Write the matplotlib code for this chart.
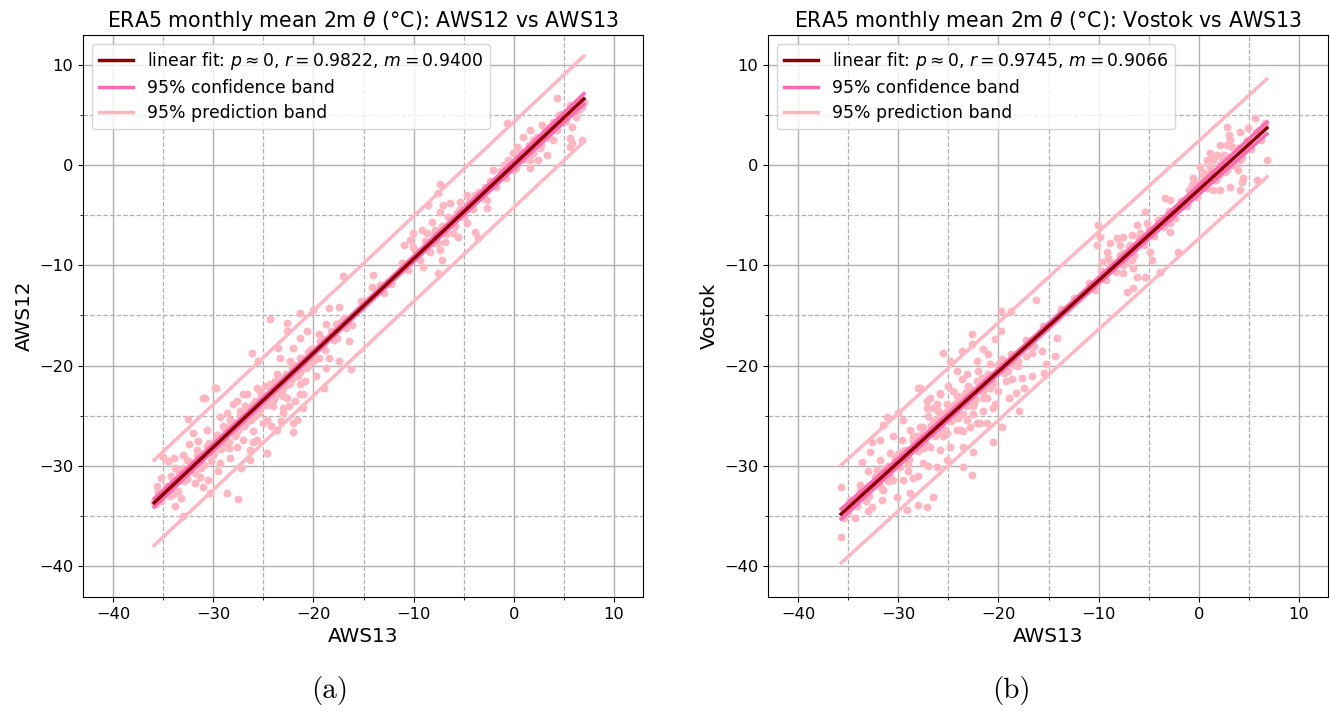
import numpy as np
import matplotlib
matplotlib.use("Agg")
import matplotlib.pyplot as plt
from matplotlib.ticker import MultipleLocator

# ERA5 monthly mean 2m potential temperature (deg C)
# Panel (a): AWS13 (x) vs AWS12 (y)
aws13_a = [
    -35.6, -35.7, -33.8, -33.0, -33.9, -33.8, -35.0, -31.0, -29.8, -32.5, -32.0, -30.6,
    -33.0, -32.6, -31.6, -31.3, -31.8, -31.0, -30.5, -30.3, -28.6, -27.5, -29.3, -28.3,
    -27.6, -27.0, -26.3, -25.6, -26.6, -27.6, -28.6, -28.0, -27.0, -25.6, -24.6, -23.6,
    -23.0, -22.0, -23.6, -25.0, -24.6, -26.3, -22.0, -21.0, -29.6, -28.8,
    -30.8, -29.7, -26.1, -24.3, -25.5, -22.6, -21.3, -20.0, -18.4, -17.4, -17.0, -14.2,
    -22.6, -21.3, -20.6, -19.4, -18.7, -17.7, -16.7, -16.4, -23.5, -22.0, -20.3, -23.3,
    -22.3, -21.3, -19.4, -18.4, -17.4, -16.2, -18.7, -19.7, -18.9, -23.6, -23.0, -22.0,
    -21.3, -24.3, -25.3, -24.0, -22.6, -21.3, -26.6, -27.6, -26.3, -27.3, -25.3, -24.6,
    -23.0, -21.6, -28.3, -29.3,
    -7.4, -7.6, -8.6, -7.1, -6.4, -5.4, -4.7, -3.9, -2.9, -2.7, -2.7, -7.4, -8.2, -6.6,
    -5.7, -4.7, -9.2, -10.1, -8.7, -7.9, -7.1, -6.1, -5.6, -3.9, -3.6, -10.1, -9.6, -8.1,
    -7.4, -6.9, -8.4, -9.1, -7.2, -7.6, -10.4,
    4.3, 5.6, 6.8, -0.7, 1.6, 2.8, 3.6, 4.6, 5.8, 0.9, 1.9, 3.3, 3.9, 5.6, 5.6, 0.3, 1.3,
    2.6, 3.3, -0.1, 0.6, 1.6, 2.4, -0.6, -0.4, -2.1, 1.6, 5.8,
    6.2, 6.5, 7.0, 6.8, -1.0, 0.0, 2.0, 4.5, 5.0, -14.1, -11.0, -13.0,
    -30.0, -29.0, -28.0, -27.0, -26.0, -25.0, -24.0, -23.0, -22.5, -21.5, -20.5, -20.0,
    -19.0, -18.0, -27.8, -26.8, -25.8, -24.8, -23.8, -22.8, -21.8, -20.8, -29.5, -30.2,
    -31.5, -32.2, -34.2, -33.2, -34.8, -35.2, -32.4, -31.2, -28.4, -27.2, -26.0, -24.2,
    -23.2, -22.4, -21.0, -35.9, -34.6, -34.0, -33.5, -32.8, -34.5,
    -35.2, -34.6, -34.0, -33.4, -32.9, -32.3, -31.8, -31.4, -30.9, -30.4, -30.0, -29.6,
    -29.2, -28.8, -28.4, -28.0, -27.7, -27.3, -26.9, -26.5, -26.2, -25.8, -25.4, -25.0,
    -24.7, -24.3, -23.9, -23.5, -23.1, -22.7, -22.3, -21.9, -21.5, -21.1, -20.7, -20.2,
    -19.8, -19.3, -18.8, -18.2, -17.6, -16.9, -16.1, -15.2, -13.4, -12.3, -11.2, -10.6,
    -9.9, -9.4, -8.9, -8.5, -8.0, -7.6, -7.2, -6.8, -6.3, -5.9, -5.4, -5.0, -4.5, -4.1,
    -3.5, -3.0, -2.4, -1.8, -1.3, -0.8, -0.3, 0.2, 0.7, 1.1, 1.5, 1.9, 2.3, 2.7, 3.1,
    3.5, 3.9, 4.3, 4.8, 5.2, 5.7, 6.1, 6.5,
    -35.5, -34.3, -33.0, -32.6, -31.6, -31.1, -30.6, -29.9, -29.4, -28.6, -28.2, -27.5,
    -27.1, -26.7, -26.0, -25.6, -25.2, -24.5, -24.1, -23.7, -23.3, -22.5, -22.1, -21.3,
    -20.5, -20.0, -19.0, -17.9, -17.2,
]
aws12_a = [
    -32.0, -33.8, -34.0, -35.0, -29.2, -30.2, -29.1, -23.2, -22.2, -25.3, -26.7, -26.4,
    -28.9, -29.4, -28.4, -31.1, -31.7, -32.1, -31.4, -32.7, -32.7, -33.3, -29.7, -29.2,
    -28.1, -27.4, -28.4, -27.4, -25.4, -25.7, -24.7, -23.8, -22.8, -22.2, -23.5, -22.8,
    -24.7, -25.7, -26.4, -25.7, -28.7, -29.4, -26.6, -22.8, -27.1, -27.7,
    -23.2, -22.2, -18.7, -15.3, -19.5, -15.7, -14.8, -14.5, -14.3, -14.2, -11.1, -12.2,
    -16.5, -17.2, -16.5, -16.8, -15.8, -15.8, -16.2, -17.5, -18.2, -18.2, -18.5, -19.2,
    -19.5, -19.2, -19.2, -19.2, -19.5, -20.3, -20.2, -21.0, -22.2, -20.8, -21.5, -21.2,
    -21.8, -21.8, -22.5, -22.8, -23.2, -22.8, -22.8, -23.5, -24.2, -24.5, -24.2, -25.4,
    -24.2, -25.4, -25.4, -25.1,
    -1.9, -2.8, -4.0, -4.0, -3.8, -3.7, -3.0, -3.0, -2.2, -3.5, -4.3, -4.7, -5.7, -5.2,
    -4.8, -5.8, -6.5, -6.8, -6.8, -6.5, -6.8, -6.8, -7.2, -6.7, -7.3, -8.2, -8.7, -7.8,
    -8.5, -7.7, -8.7, -10.2, -9.5, -10.8, -7.5,
    6.7, 6.0, 5.8, 4.2, 3.5, 4.0, 3.8, 4.2, 3.8, 2.8, 2.5, 2.8, 2.5, 2.7, 1.8, 1.8, 1.5,
    1.7, 1.0, 1.2, 0.8, 0.5, 0.5, 0.5, -0.3, -0.5, -0.3, 2.2,
    4.8, 5.5, 6.3, 2.5, 0.0, -0.5, 2.0, 5.0, 4.5, -11.0, -8.0, -12.8,
    -28.0, -26.0, -26.5, -25.0, -26.5, -23.0, -24.0, -23.0, -21.0, -20.5, -20.0, -19.5,
    -18.0, -17.0, -27.0, -24.0, -25.0, -22.0, -21.5, -22.0, -23.5, -21.5, -30.5, -29.5,
    -27.5, -30.5, -31.0, -33.2, -32.8, -31.2, -27.8, -30.2, -28.2, -30.2, -27.6, -26.0,
    -25.5, -24.0, -24.2, -33.6, -32.3, -31.5, -32.5, -31.0, -29.5,
    -33.5, -32.0, -32.8, -30.6, -31.5, -29.6, -30.7, -28.8, -29.9, -27.7, -28.9, -26.9,
    -28.3, -26.3, -27.6, -25.6, -26.8, -24.9, -26.0, -24.2, -25.4, -23.5, -24.7, -22.9,
    -23.9, -22.1, -23.3, -21.4, -22.5, -20.8, -21.7, -19.9, -21.0, -19.2, -20.2, -18.3,
    -19.3, -17.5, -18.4, -16.5, -17.2, -15.2, -15.9, -13.6, -12.0, -11.9, -9.8, -10.5,
    -8.5, -9.5, -7.6, -8.6, -6.9, -7.8, -6.1, -6.9, -5.3, -6.1, -4.4, -5.2, -3.6, -4.4,
    -2.7, -3.3, -1.6, -2.2, -0.6, -1.3, 0.3, -0.3, 1.3, 0.6, 2.0, 1.2, 2.8, 2.0, 3.5,
    2.8, 4.3, 3.5, 5.1, 4.4, 5.9, 5.2, 6.4,
    -32.6, -33.0, -30.2, -31.3, -29.0, -29.9, -28.0, -28.7, -27.0, -27.5, -25.9, -26.4,
    -24.8, -25.7, -23.8, -24.6, -23.0, -23.6, -22.0, -22.8, -21.2, -21.8, -20.1, -20.6,
    -18.6, -19.4, -17.3, -17.4, -15.6,
]

# Panel (b): AWS13 (x) vs Vostok (y)
aws13_b = [
    -35.7, -34.3, -33.8, -33.6, -32.8, -32.6, -31.8, -31.5, -31.1, -30.0, -28.0, -27.1,
    -26.5, -25.8, -25.1, -24.1, -23.5, -22.5, -21.5, -20.5, -21.1, -22.1, -23.1, -24.1,
    -25.1, -26.8, -27.8, -28.8, -29.6, -30.8, -31.8, -32.1, -30.1, -29.1, -28.1, -26.8,
    -25.8, -24.8, -23.5, -22.5, -25.1, -26.1, -27.5, -23.5, -22.6, -20.5, -28.5, -29.5,
    -30.5, -31.5, -31.6, -32.6, -30.1, -28.8, -28.0, -27.1, -26.5, -29.1, -33.5,
    -16.2, -19.7, -18.7, -25.5, -24.8, -23.6, -22.6, -22.6, -21.5, -21.0, -20.3, -19.7,
    -22.1, -20.8, -19.6, -18.6, -17.2, -16.6, -15.6, -14.4, -14.2, -15.2, -15.4, -16.6,
    -17.6, -18.6, -19.2, -17.4, -18.2, -18.9, -17.9, -19.6, -20.5, -21.5, -21.1, -20.3,
    -22.1, -23.1, -24.1, -23.6, -24.5, -25.8, -26.8, -27.8, -26.1, -25.5, -24.5, -23.5,
    -22.5, -21.8, -22.8, -23.8, -27.1, -27.5, -28.5, -29.5,
    -3.4, -2.9, -5.4, -4.1, -6.2, -5.2, -2.9, -10.1, -9.9, -10.2, -8.9, -8.2, -7.6, -6.7,
    -5.9, -7.9, -6.9, -9.2, -9.1, -9.7, -7.6, -6.7, -7.6, -6.6, -7.6, -6.2, -5.4, -4.7,
    -4.9, -2.1, -3.9, -6.6, -7.2, -2.9,
    5.6, 2.8, 4.1, 6.8, 3.1, 2.1, 3.3, 1.1, 1.8, 0.8, 1.4, 2.3, 4.1, 0.1, 1.1, 2.8, 3.9,
    4.4, 5.8, 4.1, 3.1, 2.1, 1.4, 0.4, -0.6, -0.7, -0.1, 4.3, 4.9, 2.8,
    -35.7, -30.5, -29.5, -28.5, -27.5, -26.5, -25.5, -24.5, -23.5, -22.5, -21.5, -27.0,
    -26.0, -25.0, -24.0, -29.0, -28.0, -27.0, -31.0, -32.0, -33.0, -34.5, -33.0, -20.0,
    -19.0, -18.0, -17.0, -22.0, -23.0,
    0.5, 1.5, 2.5, 3.5, 5.0, 6.0, 6.5, 0.0, -1.0, 2.0, 3.0, 4.5,
    -35.4, -34.8, -34.1, -33.5, -32.9, -32.3, -31.8, -31.3, -30.8, -30.3, -29.8, -29.3,
    -28.9, -28.4, -28.0, -27.6, -27.2, -26.7, -26.3, -25.9, -25.5, -25.1, -24.7, -24.3,
    -23.9, -23.5, -23.1, -22.7, -22.3, -21.9, -21.5, -21.0, -20.5, -20.0, -19.4, -18.7,
    -18.0, -17.2, -16.4, -15.5, -13.8, -12.5, -11.0, -10.4, -9.8, -9.3, -8.8, -8.3,
    -7.9, -7.4, -7.0, -6.5, -6.0, -5.5, -5.0, -4.5, -4.0, -3.5, -3.0, -2.4, -1.8, -1.2,
    -0.7, -0.2, 0.3, 0.8, 1.2, 1.7, 2.1, 2.6, 3.0, 3.4, 3.9, 4.3, 4.8, 5.2, 5.7, 6.2, 6.6,
    -35.0, -33.8, -33.2, -32.0, -31.0, -30.0, -29.0, -28.2, -27.4, -26.5, -25.7, -24.9,
    -24.0, -23.2, -22.4, -21.6, -20.8, -19.8, -18.4,
]
vostok_b = [
    -32.1, -35.2, -31.9, -29.6, -28.6, -27.6, -27.4, -25.9, -25.1, -24.7, -22.2, -23.5,
    -24.2, -22.7, -23.8, -23.0, -23.5, -22.8, -23.2, -24.2, -25.7, -25.7, -25.4, -26.4,
    -26.7, -26.7, -26.1, -26.4, -27.4, -28.7, -29.4, -30.4, -29.7, -29.1, -28.4, -28.1,
    -28.4, -28.1, -28.1, -28.6, -29.4, -30.1, -29.7, -30.1, -30.9, -27.6, -31.2, -31.4,
    -31.4, -32.4, -33.4, -34.1, -33.1, -32.7, -33.9, -34.1, -33.1, -34.4, -32.7,
    -13.5, -14.6, -14.6, -18.7, -19.5, -18.5, -16.8, -17.8, -18.3, -18.8, -17.3, -16.5,
    -19.5, -19.8, -19.3, -19.7, -19.0, -18.7, -18.5, -19.0, -17.2, -19.8, -20.7, -21.0,
    -21.2, -21.3, -21.5, -22.2, -22.7, -23.2, -24.5, -26.1, -21.5, -22.2, -23.2, -23.8,
    -21.5, -20.8, -20.5, -21.3, -22.5, -22.8, -23.2, -22.2, -23.8, -24.8, -25.1, -24.8,
    -24.8, -25.7, -26.1, -26.4, -24.2, -26.1, -27.1, -25.4,
    -3.3, -3.5, -4.7, -5.5, -6.0, -5.8, -6.7, -6.0, -7.2, -8.0, -7.8, -7.3, -7.2, -7.0,
    -6.8, -8.0, -8.0, -8.7, -9.3, -9.7, -8.8, -9.5, -10.0, -10.3, -10.8, -11.2, -11.2, -9.5,
    -8.7, -8.7, -10.7, -12.3, -12.7, -5.8,
    4.7, 3.8, 3.3, 0.5, 2.5, 2.0, 1.8, 1.2, 1.0, 0.5, 0.5, 0.7, 0.5, -0.2, -0.2, -0.5, -0.5,
    -1.3, -1.5, -2.5, -2.2, -2.5, -2.5, -1.0, -1.3, -2.0, -1.8, -1.7, 3.7, 2.0,
    -37.1, -27.0, -28.5, -27.5, -28.0, -26.0, -27.0, -25.0, -26.5, -24.0, -24.5, -25.0,
    -24.5, -22.0, -23.5, -30.5, -31.0, -30.0, -30.0, -31.0, -30.5, -33.5, -34.5, -22.5,
    -20.5, -20.0, -18.0, -20.5, -22.0,
    -0.8, -1.5, 1.0, 0.0, 2.0, 3.5, 4.0, -2.5, -2.5, -1.0, 3.0, 1.5,
    -35.2, -33.4, -34.0, -32.2, -33.0, -31.1, -32.0, -30.2, -31.0, -29.3, -30.1, -28.4,
    -29.3, -27.5, -28.5, -26.8, -27.8, -26.0, -27.0, -25.2, -26.2, -24.5, -25.5, -23.8,
    -24.8, -23.0, -24.0, -22.3, -23.3, -21.7, -22.6, -20.8, -21.8, -19.9, -20.7, -18.8,
    -19.5, -17.4, -18.0, -16.0, -14.4, -13.3, -11.8, -12.5, -10.6, -11.5, -9.8, -10.7,
    -9.0, -9.8, -8.2, -9.0, -7.3, -8.0, -6.4, -7.1, -5.5, -6.2, -4.6, -5.3, -3.6, -4.1,
    -2.6, -3.2, -1.7, -2.3, -0.8, -1.5, 0.0, -0.7, 0.8, 0.0, 1.7, 0.8, 2.5, 1.6, 3.3, 2.5, 4.2,
    -34.6, -32.5, -33.5, -30.6, -31.5, -28.8, -29.8, -27.0, -28.2, -25.5, -26.6, -24.0,
    -25.2, -22.6, -23.7, -21.2, -22.2, -19.6, -19.9,
]

# Regression statistics
fit_a = {"p": 0, "r": 0.9822, "m": 0.9400, "b": 0.05}
fit_b = {"p": 0, "r": 0.9745, "m": 0.9066, "b": -2.45}

panels = [
    ("a", aws13_a, aws12_a, fit_a, "AWS12"),
    ("b", aws13_b, vostok_b, fit_b, "Vostok"),
]

C_FIT = "#8B0000"
C_CONF = "#FF69B4"
C_PRED = "#FFB6C1"
C_PTS = "#FFB6C1"
T95 = 1.96

fig = plt.figure(figsize=(13.3, 7.12), dpi=100)
ax_pos = {"a": [83 / 1330, 115 / 712, 560 / 1330, 562 / 712],
          "b": [768 / 1330, 115 / 712, 560 / 1330, 562 / 712]}
cap_x = {"a": 330 / 1330, "b": 1011 / 1330}

for tag, xs, ys, fit, ylab in panels:
    x = np.asarray(xs, float)
    y = np.asarray(ys, float)
    ax = fig.add_axes(ax_pos[tag])

    n = x.size
    xm = x.mean()
    sxx = np.sum((x - xm) ** 2)
    resid = y - (fit["m"] * x + fit["b"])
    s = np.sqrt(np.sum(resid ** 2) / (n - 2))

    xf = np.linspace(x.min(), x.max(), 200)
    yf = fit["m"] * xf + fit["b"]
    conf = T95 * s * np.sqrt(1.0 / n + (xf - xm) ** 2 / sxx)
    pred = T95 * s * np.sqrt(1.0 + 1.0 / n + (xf - xm) ** 2 / sxx)

    ax.scatter(x, y, s=32, color=C_PTS, linewidths=0, zorder=2)
    ax.plot(xf, yf + pred, color=C_PRED, lw=2.5, zorder=3,
            label="95% prediction band")
    ax.plot(xf, yf - pred, color=C_PRED, lw=2.5, zorder=3)
    ax.plot(xf, yf + conf, color=C_CONF, lw=2.5, zorder=4,
            label="95% confidence band")
    ax.plot(xf, yf - conf, color=C_CONF, lw=2.5, zorder=4)
    ax.plot(xf, yf, color=C_FIT, lw=2.5, zorder=5,
            label=rf"linear fit: $p \approx {fit['p']}$, $r = {fit['r']:.4f}$, $m = {fit['m']:.4f}$")

    ax.set_xlim(-43.0, 12.9)
    ax.set_ylim(-43.1, 13.0)
    ax.xaxis.set_major_locator(MultipleLocator(10))
    ax.yaxis.set_major_locator(MultipleLocator(10))
    ax.xaxis.set_minor_locator(MultipleLocator(5))
    ax.yaxis.set_minor_locator(MultipleLocator(5))
    ax.grid(which="major", color="#b0b0b0", ls="-", lw=1.0, zorder=0)
    ax.grid(which="minor", color="#b0b0b0", ls="--", lw=0.9, zorder=0)
    ax.set_axisbelow(True)
    ax.tick_params(labelsize=11.7)

    ax.set_xlabel("AWS13", fontsize=14.4)
    ax.set_ylabel(ylab, fontsize=14.4)
    ax.set_title(rf"ERA5 monthly mean 2m $\theta$ (°C): {ylab} vs AWS13", fontsize=14.8)

    handles, labels = ax.get_legend_handles_labels()
    order = [2, 1, 0]
    ax.legend([handles[i] for i in order], [labels[i] for i in order],
              loc="upper left", fontsize=12.4, labelspacing=0.4)

    fig.text(cap_x[tag], 0.03, f"({tag})", family="cmr10", fontsize=21,
             ha="center", va="center")

fig.savefig("out.png", dpi=100)
